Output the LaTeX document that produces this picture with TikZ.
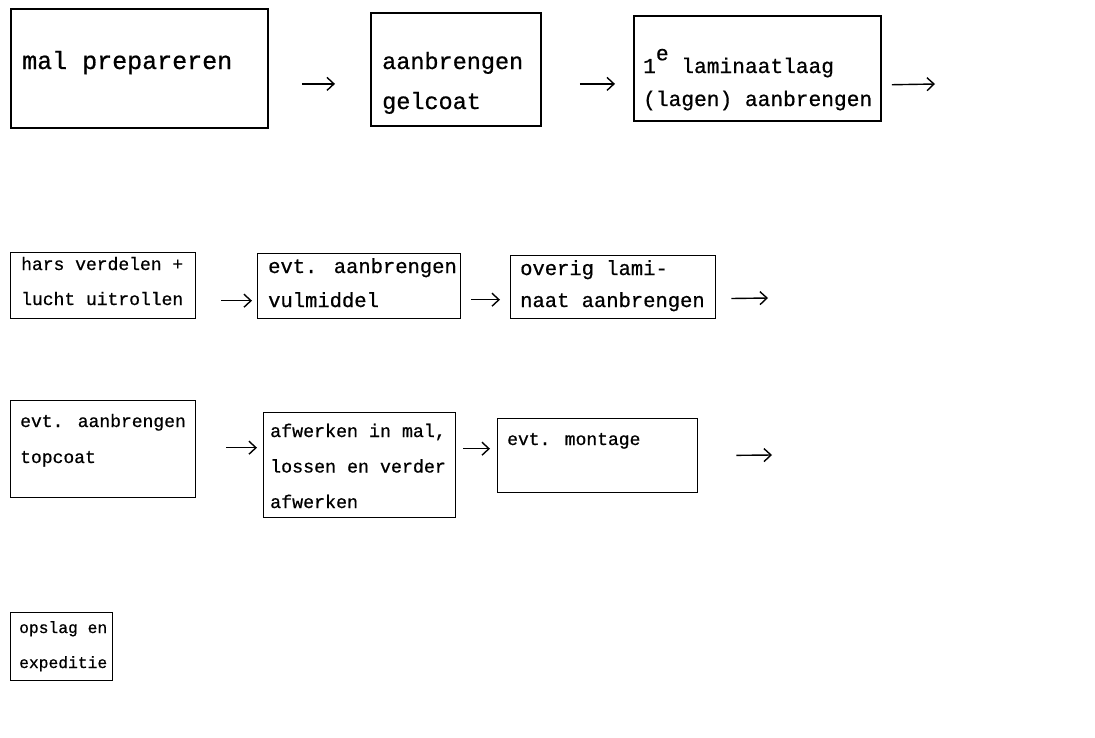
\documentclass[tikz,border=0pt]{standalone}
\usepackage{fontspec}
\newfontfamily\tw{Liberation Mono}[FakeBold=0.7]
\usetikzlibrary{arrows.meta}
\begin{document}
\begin{tikzpicture}[x=1pt,y=-1pt,
  box/.style={draw, line width=1.4pt, inner sep=0pt, anchor=north west},
  bigbox/.style={box, line width=1.8pt},
  txt/.style={anchor=base west, inner sep=0pt, align=left},
  arr/.style={line width=1.4pt, -{Straight Barb[length=7pt,width=13pt,line width=1.4pt]}},
  bigarr/.style={arr, line width=2.2pt},
]
\useasboundingbox (0,0) rectangle (1095,737);

% row 1 (anchor = baseline of last line)
\node[bigbox, minimum width=257pt, minimum height=119pt] (b1) at (10,8) {};
\node[bigbox, minimum width=170pt, minimum height=113pt] (b2) at (370,12) {};
\node[bigbox, minimum width=247pt, minimum height=105pt] (b3) at (633,15) {};
\node[txt, font=\tw\fontsize{25}{40}\selectfont] (t1) at (22,69) {mal prepareren};
\node[txt, font=\tw\fontsize{23.5}{40}\selectfont] (t2) at (382,109) {aanbrengen\\gelcoat};
\node[txt, font=\tw\fontsize{21.2}{33}\selectfont] (t3) at (643,106) {1\raisebox{0.6em}{e} laminaatlaag\\(lagen) aanbrengen};

% row 2
\node[box, minimum width=185pt, minimum height=66pt] (b4) at (10,252) {};
\node[box, minimum width=203pt, minimum height=65pt] (b5) at (257,253) {};
\node[box, minimum width=205pt, minimum height=63pt] (b6) at (510,255) {};
\node[txt, font=\tw\fontsize{18}{35}\selectfont] (t4) at (21,305) {hars verdelen +\\lucht uitrollen};
\node[txt, font=\tw\fontsize{20.5}{34}\selectfont] (t5) at (268,307) {evt. aanbrengen\\vulmiddel};
\node[txt, font=\tw\fontsize{20.5}{32}\selectfont] (t6) at (520,307) {overig lami-\\naat aanbrengen};

% row 3
\node[box, minimum width=185pt, minimum height=97pt] (b7) at (10,400) {};
\node[box, minimum width=192pt, minimum height=105pt] (b8) at (263,412) {};
\node[box, minimum width=200pt, minimum height=74pt] (b9) at (497,418) {};
\node[txt, font=\tw\fontsize{18}{36}\selectfont] (t7) at (20,463) {evt. aanbrengen\\topcoat};
\node[txt, font=\tw\fontsize{18.3}{35.5}\selectfont] (t8) at (270,508) {afwerken in mal,\\lossen en verder\\afwerken};
\node[txt, font=\tw\fontsize{18}{35}\selectfont] (t9) at (507,445) {evt. montage};

% row 4
\node[box, minimum width=102pt, minimum height=68pt] (b10) at (10,612) {};
\node[txt, font=\tw\fontsize{16.3}{35}\selectfont] (t10) at (19,668) {opslag en\\expeditie};

% free ends
\coordinate (e3) at (935,84);
\coordinate (e6) at (768,298);
\coordinate (e9) at (772,455);

% arrows
\draw[bigarr, shorten <=33pt, shorten >=35pt] ([yshift=-15.5pt]b1.east) -- ([yshift=-15.5pt]b1.east -| b2.west);
\draw[bigarr, shorten <=38pt, shorten >=18pt] ([yshift=-14.5pt]b2.east) -- ([yshift=-14.5pt]b2.east -| b3.west);
\draw[arr, shorten <=10pt] ([yshift=-16.5pt]b3.east) -- (e3);
\draw[arr, shorten <=25pt, shorten >=5pt] ([yshift=-15pt]b4.east) -- ([yshift=-15pt]b4.east -| b5.west);
\draw[arr, shorten <=10pt, shorten >=10pt] ([yshift=-13.5pt]b5.east) -- ([yshift=-13.5pt]b5.east -| b6.west);
\draw[arr, shorten <=15pt] ([yshift=-11.5pt]b6.east) -- (e6);
\draw[arr, shorten <=30pt, shorten >=6pt] ([yshift=1.5pt]b7.east) -- ([yshift=1.5pt]b7.east -| b8.west);
\draw[arr, shorten <=7pt, shorten >=7pt] ([yshift=16.5pt]b8.east) -- ([yshift=16.5pt]b8.east -| b9.west);
\draw[arr, shorten <=38pt] (b9.east) -- (e9);
\end{tikzpicture}
\end{document}
